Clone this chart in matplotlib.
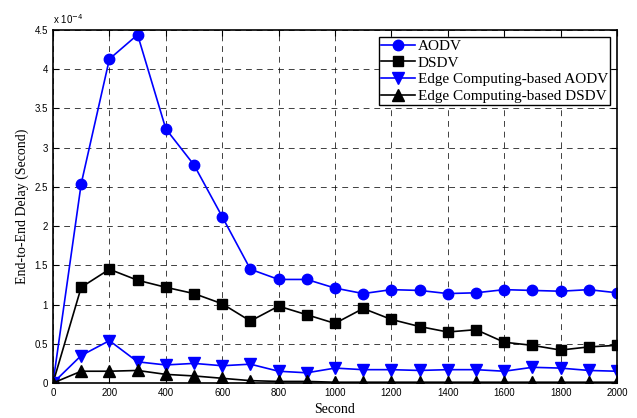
import matplotlib
matplotlib.use('Agg')
import matplotlib.pyplot as plt
from matplotlib.ticker import FormatStrFormatter

# simulation time (s)
seconds = [0, 100, 200, 300, 400, 500, 600, 700, 800, 900, 1000,
           1100, 1200, 1300, 1400, 1500, 1600, 1700, 1800, 1900, 2000]

# end-to-end delay in units of 1e-4 s
aodv = [0, 2.54, 4.13, 4.44, 3.24, 2.78, 2.12, 1.45, 1.32, 1.32, 1.21,
        1.14, 1.19, 1.18, 1.14, 1.15, 1.19, 1.18, 1.17, 1.19, 1.15]
dsdv = [0, 1.22, 1.45, 1.31, 1.22, 1.14, 1.01, 0.79, 0.98, 0.87, 0.76,
        0.95, 0.81, 0.72, 0.65, 0.68, 0.52, 0.48, 0.42, 0.46, 0.48]
edge_aodv = [0, 0.35, 0.54, 0.27, 0.23, 0.25, 0.22, 0.24, 0.15, 0.13, 0.19,
             0.17, 0.17, 0.16, 0.17, 0.17, 0.15, 0.20, 0.19, 0.16, 0.15]
edge_dsdv = [0, 0.15, 0.15, 0.16, 0.11, 0.09, 0.06, 0.03, 0.02, 0.02, 0.01,
             0.01, 0.01, 0.01, 0.01, 0.01, 0.01, 0.01, 0.01, 0.01, 0.01]

labels = ['AODV', 'DSDV', 'Edge Computing-based AODV', 'Edge Computing-based DSDV']

fig = plt.figure(figsize=(6.37, 4.18), dpi=100)
ax = fig.add_axes([53/637, 35/418, 564/637, 353/418])

ax.plot(seconds, aodv, '-o', color='blue', lw=1.2, ms=7.5, label=labels[0])
ax.plot(seconds, dsdv, '-s', color='black', lw=1.2, ms=6.8, label=labels[1])
ax.plot(seconds, edge_aodv, '-v', color='blue', lw=1.2, ms=8, label=labels[2])
ax.plot(seconds, edge_dsdv, '-^', color='black', lw=1.2, ms=8, label=labels[3])

ax.set_xlim(0, 2000)
ax.set_ylim(0, 4.5)
ax.set_xticks(range(0, 2001, 200))
ax.set_yticks([i * 0.5 for i in range(10)])
ax.yaxis.set_major_formatter(FormatStrFormatter('%g'))
ax.tick_params(direction='in', top=True, right=True, labelsize=7, length=4, width=0.8)
for lab in ax.get_xticklabels() + ax.get_yticklabels():
    lab.set_fontfamily('Liberation Sans')
ax.grid(True, color='black', linestyle=(0, (6, 5)), linewidth=0.7, alpha=0.75)
for sp in ax.spines.values():
    sp.set_linewidth(1.2)

ax.set_xlabel('Second', fontfamily='Liberation Serif', fontsize=10, labelpad=4)
ax.set_ylabel('End-to-End Delay (Second)', fontfamily='Liberation Serif', fontsize=10, labelpad=4)
ax.text(0.0, 1.01, r'x 10$^{-4}$', transform=ax.transAxes, fontsize=7,
        fontfamily='Liberation Sans', ha='left', va='bottom')

leg = ax.legend(loc='upper right', prop={'family': 'Liberation Serif', 'size': 11},
                fancybox=False, edgecolor='black', framealpha=1,
                borderpad=0.15, labelspacing=0.2, handlelength=2.2, handletextpad=0.2,
                borderaxespad=0.45)
leg.get_frame().set_linewidth(1.0)

fig.savefig('out.png', dpi=100)
